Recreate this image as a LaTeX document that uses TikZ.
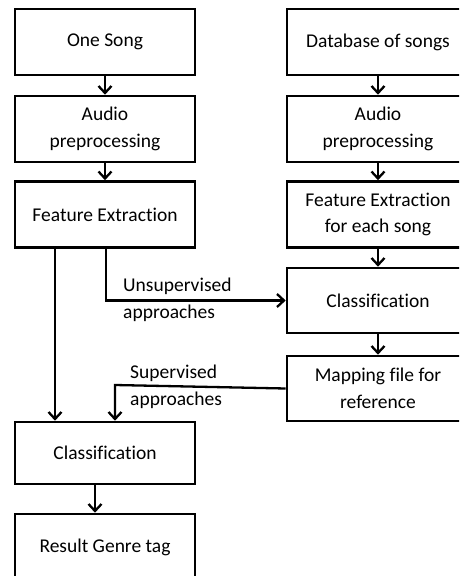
\documentclass[tikz,border=0pt]{standalone}
\usepackage{fontspec}
\setmainfont[Ligatures=NoCommon]{Carlito}
\usetikzlibrary{arrows.meta}
\begin{document}
\begin{tikzpicture}[x=1pt,y=-1pt,
  box/.style={draw=black,line width=2.6pt,minimum width=180pt,minimum height=66pt,
    align=center,inner sep=0pt,font=\fontsize{19.5}{26.5}\selectfont},
  rbox/.style={box,minimum width=182pt},
  flow/.style={line width=2.3pt,-{Straight Barb[length=7pt,width=13pt,line width=2.3pt]}},
  lbl/.style={align=left,anchor=west,inner sep=0pt,font=\fontsize{19.5}{26.5}\selectfont}]
  \useasboundingbox (0,0) rectangle (459,576);
  \clip (0,0) rectangle (459,576);
  % left column
  \node[box] (song)  at (105,42)    {One Song};
  \node[box] (pre1)  at (105,129)   {Audio\\preprocessing};
  \node[box] (feat1) at (105,214.5) {Feature Extraction};
  \node[box,minimum height=62pt] (cls1) at (105,453) {Classification};
  \node[box] (res)   at (105,547)   {Result Genre tag};
  % right column
  \node[rbox] (db)    at (378,42)    {Database of songs};
  \node[rbox] (pre2)  at (378,129)   {Audio\\preprocessing};
  \node[rbox] (feat2) at (378,214.5) {Feature Extraction\\for each song};
  \node[rbox,minimum height=65pt] (cls2) at (378,300.5) {Classification};
  \node[rbox,minimum height=65pt] (map)  at (378,388.5) {Mapping file for\\reference};
  % vertical flow
  \draw[flow] (song.south) -- (pre1.north);
  \draw[flow] (pre1.south) -- (feat1.north);
  \draw[flow] (db.south) -- (pre2.north);
  \draw[flow] (pre2.south) -- (feat2.north);
  \draw[flow] (feat2.south) -- (cls2.north);
  \draw[flow] (cls2.south) -- (map.north);
  \draw[flow] (cls1.south -| 95,0) -- (res.north -| 95,0);
  % branches
  \draw[flow] (feat1.south -| 55,0) -- (cls1.north -| 55,0);
  \coordinate (ucorner) at (106,300.5);
  \draw[flow] (feat1.south -| 106,0) -- (ucorner) -- (cls2.west);
  \coordinate (scorner) at (115,385);
  \draw[flow] (map.west) -- (scorner) -- (cls1.north -| 115,0);
  % labels
  \node[lbl] (ulbl) at (123,300) {Unsupervised\\approaches};
  \node[lbl] (slbl) at (130,387) {Supervised\\approaches};
\end{tikzpicture}
\end{document}
